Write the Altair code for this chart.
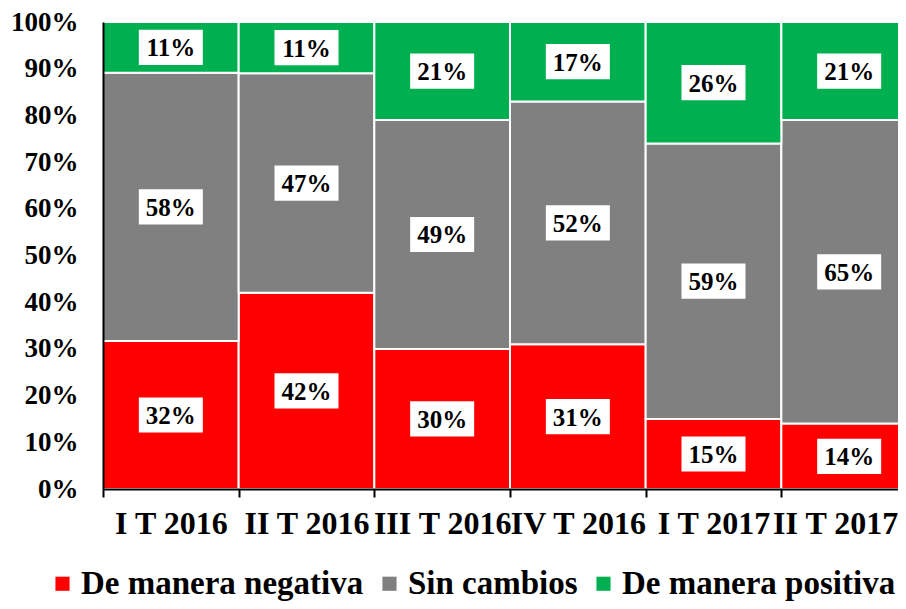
import altair as alt
import pandas as pd

periods = ["I T 2016", "II T 2016", "III T 2016", "IV T 2016", "I T 2017", "II T 2017"]
series = ["De manera negativa", "Sin cambios", "De manera positiva"]
negativa = [32, 42, 30, 31, 15, 14]
sin_cambios = [58, 47, 49, 52, 59, 65]
positiva = [11, 11, 21, 17, 26, 21]
colors = ["#FF0000", "#808080", "#00B050"]

rows = []
for i, p in enumerate(periods):
    vals = [negativa[i], sin_cambios[i], positiva[i]]
    tot = sum(vals)
    cum = 0
    for k, (s, v) in enumerate(zip(series, vals)):
        start = cum / tot * 100
        cum += v
        end = cum / tot * 100
        rows.append(dict(periodo=p, serie=s, valor=v, y0=start, y1=end,
                         ymid=(start + end) / 2, label=f"{v}%", orden=k))
df = pd.DataFrame(rows)

FONT = "Liberation Serif"
W, H = 795, 467

xscale = alt.Scale(domain=periods, range=[0, 814], paddingInner=0, paddingOuter=0)
yscale = alt.Scale(domain=[0, 100], nice=False)

base = alt.Chart(df)

bars = base.mark_bar(stroke="white", strokeWidth=2).encode(
    x=alt.X("periodo:N", scale=xscale, sort=periods,
            axis=alt.Axis(title=None, labelAngle=0, labelFont=FONT, labelFontSize=32,
                          labelFontWeight="bold", labelColor="black", tickBand="extent",
                          tickColor="black", tickSize=8, tickWidth=2, domainColor="black",
                          domainWidth=2, labelPadding=11, zindex=1,
                          labelOffset={"condition": {"test": f"datum.value === '{periods[-1]}'",
                                                     "value": -14}, "value": 0})),
    y=alt.Y("y0:Q", scale=yscale,
            axis=alt.Axis(title=None, values=list(range(0, 101, 10)),
                          labelExpr="datum.value + '%'", labelFont=FONT, labelFontSize=27,
                          labelFontWeight="bold", labelColor="black", ticks=False, grid=False,
                          domainColor="black", domainWidth=2, labelPadding=25, zindex=1)),
    y2="y1:Q",
    color=alt.Color("serie:N", scale=alt.Scale(domain=series, range=colors),
                    legend=alt.Legend(title=None, orient="none", direction="horizontal",
                                      legendX=-57, legendY=545, symbolType="square",
                                      symbolSize=200, symbolStrokeWidth=0, symbolOpacity=1,
                                      labelFont=FONT, labelFontSize=33, labelFontWeight="bold",
                                      labelColor="black", columnPadding=9, labelOffset=2,
                                      labelLimit=400)),
    order=alt.Order("orden:Q"),
)

boxes = base.mark_point(shape="M-1,-0.55L1,-0.55L1,0.55L-1,0.55Z", filled=True,
                        color="white", opacity=1, size=4096, strokeWidth=0).encode(
    x=alt.X("periodo:N", scale=xscale, sort=periods),
    y=alt.Y("ymid:Q", scale=yscale),
)

texts = base.mark_text(font=FONT, fontSize=25, fontWeight="bold", color="black",
                       baseline="middle", align="center", dy=1).encode(
    x=alt.X("periodo:N", scale=xscale, sort=periods),
    y=alt.Y("ymid:Q", scale=yscale),
    text="label:N",
)

chart = alt.layer(bars, boxes, texts).properties(
    width=W, height=H,
    autosize=alt.AutoSizeParams(type="none"),
    padding={"left": 95, "top": 14, "right": 0, "bottom": 112},
).configure_view(stroke=None)

chart.save("out.html", embed_options={"renderer": "svg", "actions": False})
